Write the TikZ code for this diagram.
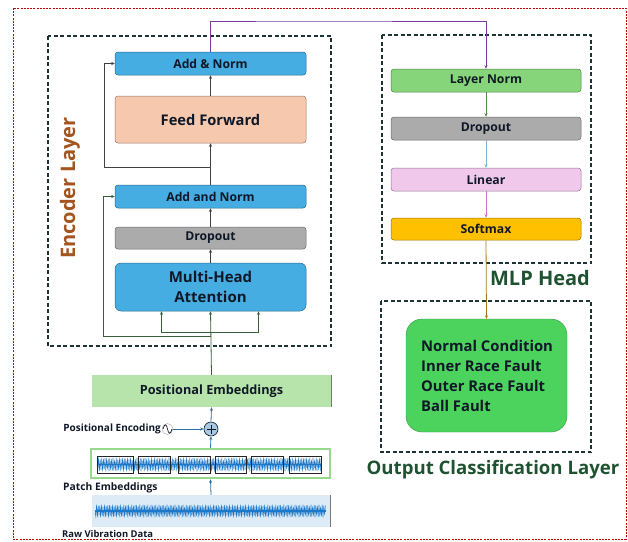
\documentclass[tikz,border=0pt]{standalone}
\usepackage{fontspec}
\setmainfont{Open Sans}
\usetikzlibrary{arrows.meta,calc}
\definecolor{bluebox}{HTML}{45ADE2}
\definecolor{peach}{HTML}{F6C8AE}
\definecolor{grayb}{HTML}{ABABAB}
\definecolor{lngreen}{HTML}{86D57A}
\definecolor{pinkb}{HTML}{F0C8EC}
\definecolor{softy}{HTML}{FFC000}
\definecolor{outgreen}{HTML}{4BD35E}
\definecolor{posgreen}{HTML}{B6E4AA}
\definecolor{rawblue}{HTML}{DDEBF7}
\definecolor{dashc}{HTML}{1E3434}
\definecolor{redb}{HTML}{C00000}
\definecolor{txt}{HTML}{101828}
\definecolor{brownt}{HTML}{A3541F}
\definecolor{greent}{HTML}{1F5230}
\definecolor{trunk}{HTML}{404040}
\definecolor{resg}{HTML}{3B5E3B}
\definecolor{purp}{HTML}{7A3C9E}
\definecolor{arrg}{HTML}{4E8A45}
\definecolor{arrb}{HTML}{7FB2D6}
\definecolor{arrp}{HTML}{D472C8}
\definecolor{arrbr}{HTML}{A8781E}
\definecolor{wavec}{HTML}{1E78C8}
\definecolor{lowarr}{HTML}{2F6F9E}
\definecolor{patchg}{HTML}{96D98C}
\tikzset{
  x=1pt,y=-1pt,
  box/.style={draw=#1!60!black,line width=0.5pt,rounded corners=3pt,inner sep=0pt,
    font=\bfseries\fontsize{12.2}{14}\selectfont,text=txt,minimum width=191pt,minimum height=23pt},
  dashbox/.style={draw=dashc,line width=1.2pt,dash pattern=on 4pt off 2.5pt},
  arr/.style={-{Stealth[length=3.5pt,width=3pt]},line width=0.8pt},
  wave/.style={wavec,line width=0.45pt},
  smalllab/.style={inner sep=0pt,text=txt,font=\bfseries\fontsize{#1}{12}\selectfont},
}
\begin{document}
\begin{tikzpicture}
\useasboundingbox (0,0) rectangle (628,541);
% outer border
\draw[redb,line width=0.6pt,dash pattern=on 2pt off 1.2pt] (13,8) rectangle (626,539);
% group boxes
\draw[dashbox] (48,36) rectangle (331,346);
\draw[dashbox] (382,35) rectangle (591,263);
\draw[dashbox] (381,301) rectangle (591,452);
% encoder nodes
\node[box=bluebox,fill=bluebox] (an2) at (210.5,63.5) {Add \& Norm};
\node[box=peach,fill=peach,minimum height=47pt,font=\bfseries\fontsize{14.7}{17}\selectfont] (ff) at (210.5,119.5) {Feed Forward};
\node[box=bluebox,fill=bluebox] (an1) at (210.5,196.5) {Add and Norm};
\node[box=grayb,fill=grayb,minimum height=22pt] (drop1) at (210.5,238) {Dropout};
\node[box=bluebox,fill=bluebox,minimum height=48pt,rounded corners=6pt,align=center,
  font=\bfseries\fontsize{15}{19.5}\selectfont] (mha) at (210.5,287) {Multi-Head\\Attention};
\node[rotate=90,text=brownt,font=\bfseries\fontsize{20}{22}\selectfont] (enclab) at (70,188) {Encoder Layer};
% MLP nodes
\node[box=lngreen,fill=lngreen,minimum width=190pt] (ln) at (486,80.5) {Layer Norm};
\node[box=grayb,fill=grayb,minimum width=190pt] (drop2) at (486,128.5) {Dropout};
\node[box=pinkb,fill=pinkb,minimum width=190pt] (lin) at (486,179.5) {Linear};
\node[box=softy,fill=softy,minimum width=190pt,minimum height=22pt] (soft) at (486,229) {Softmax};
\node[text=greent,font=\bfseries\fontsize{20}{22}\selectfont,anchor=base,inner sep=0pt] (mlplab) at (540,285) {MLP Head};
% output
\node[draw=outgreen!70!black,line width=0.4pt,fill=outgreen,rounded corners=16pt,minimum width=161pt,minimum height=113pt] (out) at (486.5,375.5) {};
\node[anchor=north west,align=left,text=txt,font=\bfseries\fontsize{14.8}{19.7}\selectfont,inner sep=0pt] (outtxt) at (421,340.5) {Normal Condition\\Inner Race Fault\\Outer Race Fault\\Ball Fault};
\node[text=greent,font=\bfseries\fontsize{18.6}{21}\selectfont,anchor=base,inner sep=0pt] (outlab) at (493,474) {Output Classification Layer};
% lower part
\node[fill=posgreen,minimum width=239pt,minimum height=32pt,inner sep=0pt,text=txt,font=\bfseries\fontsize{12.7}{15}\selectfont] (posemb) at (211.5,391) {Positional Embeddings};
\draw[trunk!70,line width=0.8pt] (posemb.north east) -- (posemb.south east);
\node[draw=patchg,line width=2.5pt,fill=white,minimum width=239pt,minimum height=29pt,inner sep=0pt] (patch) at (210.5,463.5) {};
\node[fill=rawblue,minimum width=238pt,minimum height=32pt,inner sep=0pt] (raw) at (211,511) {};
\draw[trunk!70,line width=0.8pt] (raw.north east) -- (raw.south east);
% waves
\draw[wave] (95,511) \foreach \i in {1,...,288} { -- ({95+\i*0.8},{511+(2*mod(\i,2)-1)*(4+2.5*abs(sin(\i*37)))}) };
\draw[wavec,line width=1.4pt] (95,511) -- (326,511);
\draw[wave] (97,464.5) \foreach \i in {1,...,281} { -- ({97+\i*0.8},{464.5+(2*mod(\i,2)-1)*(4.5+2.5*abs(sin(\i*41)))}) };
\draw[wavec,line width=1.6pt] (97,464.5) -- (322,464.5);
\foreach \a/\b/\n in {97/133/1,138/170/2,178/210/3,215/246/4,251/283/5,289/321/6}
  \draw[black!85,line width=0.9pt] (\a,456) rectangle (\b,473);
\node[anchor=base west,smalllab=10.3] (patchlab) at (63,490) {Patch Embeddings};
\node[anchor=base west,smalllab=9.4] (rawlab) at (62,537) {Raw Vibration Data};
\node[anchor=east,smalllab=10] (pelab) at (161,428.5) {Positional Encoding};
\node[circle,draw=gray!60,line width=0.5pt,minimum size=11pt,inner sep=0pt] (sinesym) at (167.5,429) {};
\draw[txt,line width=0.7pt] (163,429) .. controls (164.5,423.5) and (166.5,423.5) .. (167.5,429) .. controls (168.5,434.5) and (170.5,434.5) .. (172,429);
\node[circle,draw=txt,line width=0.6pt,fill=arrb!70!white,minimum size=14pt,inner sep=0pt] (plus) at (211,429) {};
\draw[txt,line width=1pt] (plus.center) ++(-4.5,0) -- ++(9,0) (plus.center) ++(0,-4.5) -- ++(0,9);
% lower arrows
\draw[arr,lowarr] (raw.north) -- (patch.south);
\draw[arr,lowarr] (patch.north) -- (plus.south);
\draw[arr,lowarr] (plus.north) -- (posemb.south);
\draw[arr,lowarr] (sinesym.east) -- (plus.west);
% encoder connections
\draw[arr,resg] (posemb.north) -- (mha.south);
\coordinate (br) at (211,332);
\draw[arr,resg] (br) -| ([xshift=-49pt]mha.south);
\draw[arr,resg] (br) -| ([xshift=48pt]mha.south);
\coordinate (res1) at (211,336);
\coordinate (resL1) at (103,0);
\draw[arr,resg] (res1) -- (res1 -| resL1) |- (an1.west);
\draw[arr,trunk] (mha.north) -- (drop1.south);
\draw[arr,trunk] (drop1.north) -- (an1.south);
\draw[arr,trunk] (an1.north) -- (ff.south);
\draw[arr,trunk] (ff.north) -- (an2.south);
\coordinate (res2) at (211,167);
\coordinate (resL2) at (104,0);
\draw[arr,trunk] (res2) -- (res2 -| resL2) |- (an2.west);
% to MLP
\coordinate (topc) at (300,21);
\draw[arr,purp] (an2.north) |- (topc) -| (ln.north);
\draw[arr,arrg] (ln.south) -- (drop2.north);
\draw[arr,arrb] (drop2.south) -- (lin.north);
\draw[arr,arrp] (lin.south) -- (soft.north);
\draw[arr,arrbr] (soft.south) -- (out.north);
\end{tikzpicture}
\end{document}
